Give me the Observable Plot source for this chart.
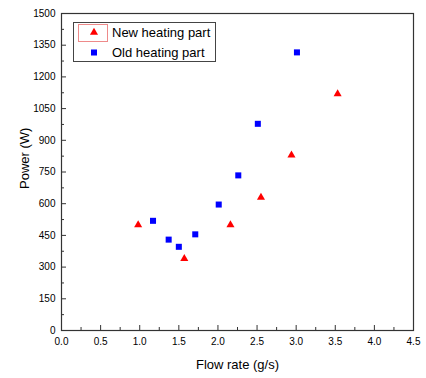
<!DOCTYPE html>
<html><head><meta charset="utf-8">
<script src="https://cdn.jsdelivr.net/npm/d3@7"></script>
<script src="https://cdn.jsdelivr.net/npm/@observablehq/plot@0.6"></script>
<style>
body{margin:0;background:#fff;}
#wrap{position:relative;width:426px;height:378px;font-family:"Liberation Sans",Arial,sans-serif;}
#legend{position:absolute;left:73px;top:22px;}
</style></head><body><div id="wrap"></div>
<script>
const newFlow = [0.98, 1.57, 2.16, 2.55, 2.94, 3.53];
const newPower = [500, 340, 500, 630, 830, 1120];
const oldFlow = [1.17, 1.37, 1.50, 1.71, 2.01, 2.26, 2.51, 3.01];
const oldPower = [519, 430, 396, 455, 596, 734, 978, 1316];
const seriesNames = ["New heating part", "Old heating part"];
const xTicks = [0, 0.5, 1, 1.5, 2, 2.5, 3, 3.5, 4, 4.5];
const xMinor = [0.25, 0.75, 1.25, 1.75, 2.25, 2.75, 3.25, 3.75, 4.25];
const yTicks = [0, 150, 300, 450, 600, 750, 900, 1050, 1200, 1350, 1500];
const yMinor = [75, 225, 375, 525, 675, 825, 975, 1125, 1275, 1425];
const xLabel = "Flow rate (g/s)";
const yLabel = "Power (W)";

const newData = newFlow.map((x, i) => ({x, y: newPower[i]}));
const oldData = oldFlow.map((x, i) => ({x, y: oldPower[i]}));
const font = '"Liberation Sans", Arial, sans-serif';
const blank = () => "";

const chart = Plot.plot({
  width: 426, height: 378,
  marginLeft: 61, marginRight: 13, marginTop: 13, marginBottom: 48,
  style: {fontFamily: font, fontSize: "10px", color: "#000", background: "#fff"},
  x: {domain: [0, 4.5]},
  y: {domain: [0, 1500]},
  marks: [
    Plot.axisX({ticks: xTicks, tickSize: 0, tickPadding: 7, tickFormat: d3.format(".1f"), label: null}),
    Plot.axisX({ticks: xTicks, tickSize: 5, dy: -5, tickFormat: blank, label: null, stroke: "#333"}),
    Plot.axisX({ticks: xMinor, tickSize: 3, dy: -3, tickFormat: blank, label: null, stroke: "#333"}),
    Plot.axisY({ticks: yTicks, tickSize: 0, tickPadding: 6, tickFormat: d3.format("d"), label: null}),
    Plot.axisY({ticks: yTicks, tickSize: 5, dx: 5, tickFormat: blank, label: null, stroke: "#333"}),
    Plot.axisY({ticks: yMinor, tickSize: 3, dx: 3, tickFormat: blank, label: null, stroke: "#333"}),
    Plot.frame({stroke: "#333", strokeWidth: 1.2}),
    Plot.dot(newData, {x: "x", y: "y", symbol: "triangle", fill: "#ff0000", r: 3}),
    Plot.dot(oldData, {x: "x", y: "y", symbol: "square", fill: "#0000ff", r: 3.4}),
    Plot.text([xLabel], {frameAnchor: "bottom", dy: 38, fontSize: 13}),
    Plot.text([yLabel], {frameAnchor: "left", dx: -37, dy: 17, rotate: -90, fontSize: 13})
  ]
});
const wrap = document.getElementById("wrap");
wrap.appendChild(chart);

// legend
const lg = d3.select(wrap).append("svg").attr("id", "legend")
  .attr("width", 144).attr("height", 41)
  .style("font-family", font);
lg.append("rect").attr("x", 0.5).attr("y", 0.5).attr("width", 142).attr("height", 39)
  .attr("fill", "#fff").attr("stroke", "#444");
lg.append("rect").attr("x", 5.5).attr("y", 2.5).attr("width", 29).attr("height", 17)
  .attr("fill", "none").attr("stroke", "#ee8a8a");
const syms = [d3.symbolTriangle, d3.symbolSquare];
const cols = ["#ff0000", "#0000ff"];
const rs = [3, 3.4];
seriesNames.forEach((name, i) => {
  const cy = 10.5 + i * 20;
  lg.append("path").attr("transform", `translate(21,${cy})`)
    .attr("d", d3.symbol(syms[i], rs[i] * rs[i] * Math.PI)()).attr("fill", cols[i]);
  lg.append("text").attr("x", 39).attr("y", cy).attr("dy", "0.35em")
    .attr("font-size", 13).attr("fill", "#000").text(name);
});
</script></body></html>
